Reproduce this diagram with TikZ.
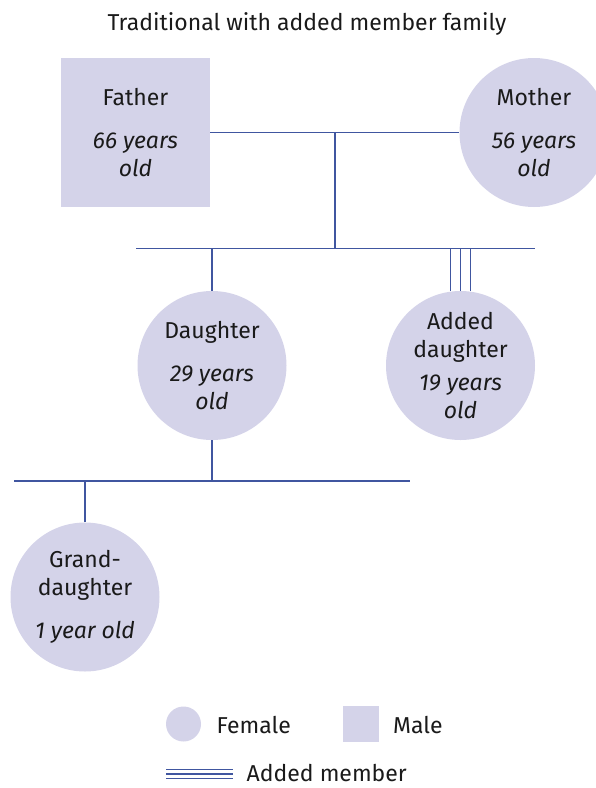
\documentclass[tikz,border=0pt]{standalone}
\usepackage{fontspec}
\setmainfont{Fira Sans}
\usetikzlibrary{calc}
\definecolor{fillc}{RGB}{212,211,233}
\definecolor{linec}{RGB}{64,86,160}
\definecolor{textc}{RGB}{26,26,26}
\tikzset{
  fem/.style={circle,fill=fillc,minimum size=149pt,inner sep=0pt,align=center,text=textc,font=\fontsize{23}{28}\selectfont},
  mal/.style={rectangle,fill=fillc,minimum size=149pt,inner sep=0pt,align=center,text=textc,font=\fontsize{23}{28}\selectfont},
  link/.style={draw=linec,line width=1.3pt},
  lbl/.style={anchor=west,inner sep=0pt,text=textc,font=\fontsize{23}{28}\selectfont},
}
\begin{document}
\begin{tikzpicture}[x=1pt,y=-1pt]
\useasboundingbox (0,0) rectangle (596,788);
% title
\node[text=textc,font=\fontsize{23}{28}\selectfont,inner sep=0pt] (title) at (307,24) {Traditional with added member family};
% persons
\node[mal] (father) at (135.5,132.5) {Father\\[15pt]\textit{66 years}\\\textit{old}};
\node[fem] (mother) at (534,132.5) {Mother\\[15pt]\textit{56 years}\\\textit{old}};
\node[fem] (daughter) at (212,365.5) {Daughter\\[15pt]\textit{29 years}\\\textit{old}};
\node[fem] (added) at (460.5,365.5) {Added\\daughter\\[5pt]\textit{19 years}\\\textit{old}};
\node[fem] (grand) at (85,597) {Grand-\\daughter\\[15pt]\textit{1 year old}};
% connection coordinates
\coordinate (cm) at (335,132.5);
\coordinate (cs) at (335,248.5);
\coordinate (sl) at (136,248.5);
\coordinate (sr) at (535,248.5);
\coordinate (gl) at (14,481);
\coordinate (gr) at (410,481);
% connectors
\draw[link] (father.east) -- (mother.west);
\draw[link] (cm) -- (cs);
\draw[link] (sl) -- (sr);
\draw[link] (daughter.north) -- (daughter.north |- sl);
\draw[link] ([xshift=-10pt]added.north) -- ([xshift=-10pt]added.north |- sl);
\draw[link] (added.north) -- (added.north |- sl);
\draw[link] ([xshift=10pt]added.north) -- ([xshift=10pt]added.north |- sl);
\draw[link] (daughter.south) -- (daughter.south |- gl);
\draw[link] (gl) -- (gr);
\draw[link] (grand.north) -- (grand.north |- gl);
% legend
\node[circle,fill=fillc,minimum size=35pt,inner sep=0pt] (lf) at (183.5,724) {};
\node[lbl] (lft) at (216.5,725) {Female};
\node[rectangle,fill=fillc,minimum size=36pt,inner sep=0pt] (lm) at (361,724) {};
\node[lbl] (lmt) at (393,725) {Male};
\coordinate (la1) at (166,769.5);
\coordinate (la2) at (166,774);
\coordinate (la3) at (166,778.5);
\draw[draw=linec,line width=1.1pt] (la1) -- ++(67,0);
\draw[draw=linec,line width=1.1pt] (la2) -- ++(67,0);
\draw[draw=linec,line width=1.1pt] (la3) -- ++(67,0);
\node[lbl] (lat) at (246.5,773) {Added member};
\end{tikzpicture}
\end{document}
